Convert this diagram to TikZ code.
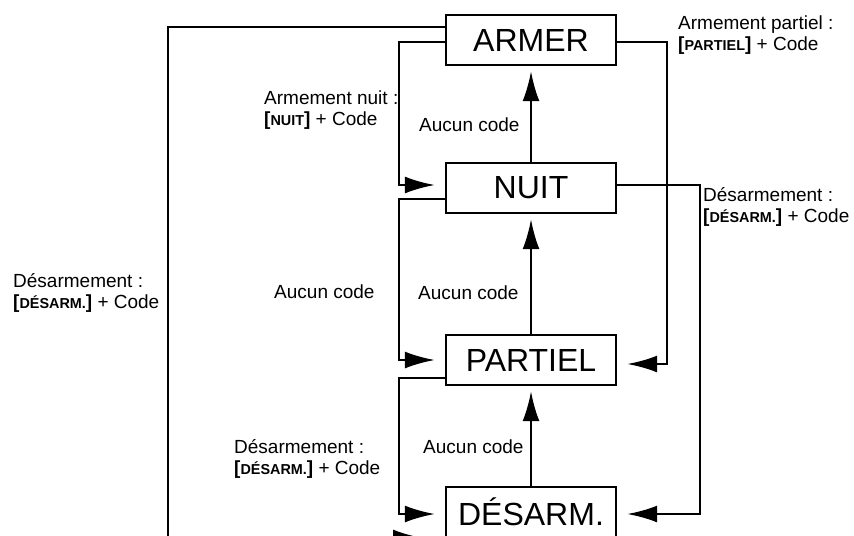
\documentclass[tikz,border=0pt]{standalone}
\usepackage{fontspec}
\setmainfont{Liberation Sans}
\usetikzlibrary{arrows.meta}
\newcommand{\touche}[1]{\textbf{[{\fontsize{7.2}{10}\selectfont #1}]}}
\begin{document}
\begin{tikzpicture}[x=0.5pt, y=-0.5pt, line width=1.2pt, line join=miter, >={Latex[length=15pt,width=8.5pt]},
	etat/.style={draw, minimum width=85pt, minimum height=25pt, inner sep=0pt, font=\fontsize{16}{19}\selectfont},
	lbl/.style={anchor=west, align=left, inner sep=0pt, font=\fontsize{9.5}{10.5}\selectfont}]
	\useasboundingbox (0,0) rectangle (854,535);
	\node[etat] (armer) at (531,40) {ARMER};
	\node[etat] (nuit) at (531,188) {NUIT};
	\node[etat] (partiel) at (531,360) {PARTIEL};
	\node[etat] (desarm) at (531,512) {DÉSARM.};
	\coordinate (bout) at (423,538);
	% sans code
	\draw[->, shorten >=2.5pt] (nuit.north) -- (armer.south);
	\draw[->, shorten >=2.5pt] (partiel.north) -- (nuit.south);
	\draw[->, shorten >=2.5pt] (desarm.north) -- (partiel.south);
	\node[lbl] (ac1) at (418,125) {Aucun code};
	\node[lbl] (ac2) at (417,293) {Aucun code};
	\node[lbl] (ac3) at (422,447) {Aucun code};
	% cote gauche
	\draw[->, shorten >=5pt] ([yshift=-1pt]armer.west) -- ++(-46,0) |- ([yshift=1.5pt]nuit.west);
	\draw[->, shorten >=5pt] ([yshift=-5.5pt]nuit.west) -- ++(-46,0) |- (partiel.west);
	\draw[->, shorten >=5pt] ([yshift=-9pt]partiel.west) -- ++(-46,0) |- ([yshift=-1pt]desarm.west);
	\draw[->] ([yshift=6.5pt]armer.west) -- ++(-277,0) |- (bout);
	\node[lbl] (lnuit) at (263,110) {Armement nuit :\\\touche{NUIT} + Code};
	\node[lbl] (lac) at (273,292) {Aucun code};
	\node[lbl] (ldes1) at (233,459) {Désarmement :\\\touche{DÉSARM.} + Code};
	\node[lbl] (ldes0) at (12,293) {Désarmement :\\\touche{DÉSARM.} + Code};
	% cote droit
	\draw[->, shorten >=5pt] ([yshift=-1pt]armer.east) -- ++(50,0) |- ([yshift=-2pt]partiel.east);
	\draw[->, shorten >=5pt] ([yshift=1.5pt]nuit.east) -- ++(83,0) |- ([yshift=-1pt]desarm.east);
	\node[lbl] (lpart) at (677,35) {Armement partiel :\\\touche{PARTIEL} + Code};
	\node[lbl] (ldes2) at (702,207) {Désarmement :\\\touche{DÉSARM.} + Code};
\end{tikzpicture}
\end{document}
